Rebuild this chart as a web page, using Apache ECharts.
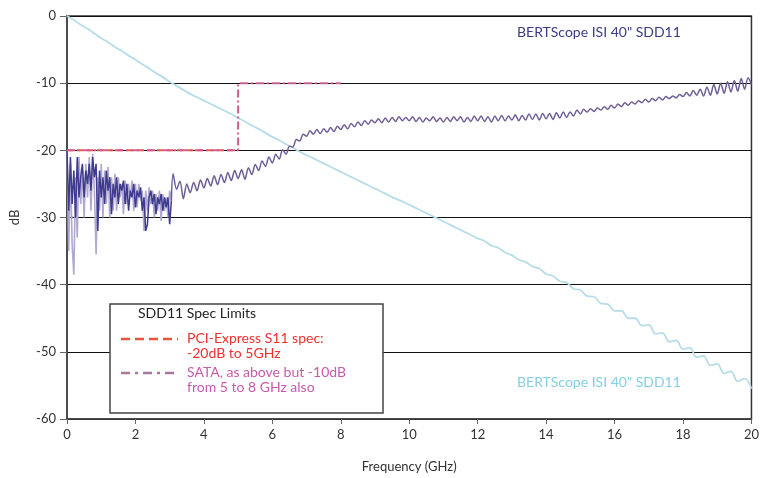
<!DOCTYPE html>
<html><head><meta charset="utf-8">
<script src="https://cdn.jsdelivr.net/npm/echarts@6/dist/echarts.min.js"></script>
<style>html,body{margin:0;padding:0;background:#fff}#c{width:762px;height:478px}</style>
</head><body><div id="c"></div>
<script>
// ---- data ----
const xTicks = [0, 2, 4, 6, 8, 10, 12, 14, 16, 18, 20];
const yTicks = [0, -10, -20, -30, -40, -50, -60];

// SDD11 low-frequency region (0 .. 3.05 GHz, step 0.05)
const lowStart = 0, lowStep = 0.05;
const sddLowDark = [-20,-29,-21,-28,-23,-30,-21,-27,-24,-22,-27,-23,-25,-22,-26,-21,-24,-22,-32,-23,
  -27,-24,-28,-23,-26,-24,-29.5,-25,-27,-24,-28,-25,-26,-24.5,-28,-25,-29,-26,-27,-25,
  -28.5,-26,-27,-25.5,-29,-27,-32,-31,-27,-26,-28,-26.5,-29.5,-27,-28,-26.5,-29,-27,-28.5,-27,-31,-27.5];
const sddLowLight = [-20,-35,-22,-34,-38.5,-24,-33,-21,-28,-23,-30,-22,-27,-21,-29,-20.5,-26,-35.5,-24,-29,
  -22,-30,-23,-28,-22.5,-30,-24,-29,-23.5,-29,-24,-27,-25,-29.5,-24.5,-28,-25,-27,-24.5,-29,
  -25,-28.5,-25,-27.5,-26,-32,-26,-29,-25.5,-28,-26,-30,-26.5,-29,-26,-30.5,-26.5,-29,-27,-30,-26,-27.5];

// SDD11 upper region (3.1 .. 20.0 GHz, step 0.1)
const highStart = 3.1, highStep = 0.1;
const sddHigh = [-23.5,-25.8,-24.6,-27.2,-25.0,-26.3,-24.8,-26.0,-24.4,-25.6,
  -24.2,-25.3,-23.8,-25.1,-23.6,-24.8,-23.3,-24.5,-23.0,-24.2,
  -22.9,-24.3,-22.6,-23.6,-22.1,-23.0,-21.6,-22.4,-21.0,-21.9,
  -20.6,-21.3,-19.9,-20.6,-19.4,-19.5,-18.4,-18.6,-17.6,-17.9,
  -17.1,-17.6,-16.9,-17.5,-16.8,-17.3,-16.6,-17.2,-16.4,-16.9,
  -16.2,-16.8,-16.0,-16.5,-15.8,-16.3,-15.6,-16.1,-15.5,-15.9,
  -15.3,-15.9,-15.2,-15.8,-15.1,-15.7,-15.0,-15.6,-15.1,-15.6,
  -15.0,-15.7,-15.1,-15.8,-15.2,-15.6,-15.0,-15.7,-15.2,-15.8,
  -15.1,-15.7,-15.0,-15.6,-15.0,-15.8,-15.1,-15.7,-14.9,-15.6,
  -14.9,-15.7,-15.0,-15.8,-14.9,-15.6,-14.8,-15.6,-14.9,-15.5,
  -14.7,-15.6,-14.8,-15.5,-14.6,-15.4,-14.6,-15.5,-14.5,-15.3,
  -14.5,-15.4,-14.4,-15.2,-14.3,-15.1,-14.3,-14.9,-14.0,-14.6,
  -13.9,-14.3,-13.8,-14.2,-13.7,-14.0,-13.5,-13.9,-13.3,-13.7,
  -13.1,-13.5,-12.9,-13.3,-12.8,-13.1,-12.6,-12.9,-12.4,-12.8,
  -12.3,-12.6,-12.1,-12.5,-12.0,-12.3,-11.9,-12.2,-11.7,-12.0,
  -11.4,-11.9,-11.1,-11.8,-10.9,-11.9,-10.6,-11.8,-10.2,-11.6,
  -10.0,-11.5,-9.8,-11.3,-9.6,-11.2,-9.3,-10.9,-9.2,-10.2];

// light-blue trace (0 .. 20 GHz, step 0.2)
const lbStart = 0, lbStep = 0.2;
const lightTrace = [0,-0.6,-1.3,-1.9,-2.6,-3.3,-3.9,-4.6,-5.2,-5.9,
  -6.5,-7.2,-7.8,-8.5,-9.1,-9.8,-10.4,-11.0,-11.6,-12.1,
  -12.6,-13.1,-13.6,-14.1,-14.6,-15.2,-15.7,-16.3,-16.8,-17.4,
  -18.0,-18.5,-19.1,-19.6,-20.2,-20.7,-21.2,-21.7,-22.2,-22.7,
  -23.2,-23.7,-24.2,-24.7,-25.2,-25.7,-26.2,-26.7,-27.2,-27.6,
  -28.1,-28.6,-29.1,-29.6,-30.1,-30.6,-31.1,-31.6,-32.1,-32.6,
  -33.1,-33.5,-34.2,-34.5,-35.2,-35.6,-36.3,-36.6,-37.3,-37.6,
  -38.4,-38.7,-39.5,-39.7,-40.6,-40.8,-41.7,-41.8,-42.8,-42.9,
  -43.9,-43.9,-45.0,-45.0,-46.1,-46.0,-47.3,-47.2,-48.5,-48.3,
  -49.6,-49.4,-50.8,-50.6,-52.0,-51.8,-53.2,-52.9,-54.4,-54.0,-55.5];

// spec limit lines
const pciX = [0, 5], pciY = [-20, -20];
const sataX = [0, 5, 5, 8], sataY = [-20, -20, -10, -10];

// texts
const traceLabel = 'BERTScope ISI 40" SDD11';
const legendTitle = 'SDD11 Spec Limits';
const pciText = ['PCI-Express S11 spec:', '-20dB to 5GHz'];
const sataText = ['SATA, as above but -10dB', 'from 5 to 8 GHz also'];

// ---- build ----
function pairs(start, step, vals) {
  return vals.map((v, i) => [+(start + i * step).toFixed(3), v]);
}
function zip(xs, ys) { return xs.map((x, i) => [x, ys[i]]); }

const FONT = 'Lato, "Open Sans", sans-serif';
const chart = echarts.init(document.getElementById('c'), null, {renderer: 'canvas'});

const option = {
  animation: false,
  backgroundColor: '#fff',
  textStyle: {fontFamily: FONT},
  grid: {left: 65, right: 8, top: 16, bottom: 55, show: true, borderColor: '#333', borderWidth: 1.5, backgroundColor: 'transparent'},
  xAxis: {
    type: 'value', min: 0, max: 20, interval: 2,
    name: 'Frequency (GHz)', nameLocation: 'middle', nameGap: 41,
    nameTextStyle: {fontSize: 13, color: '#333', fontFamily: FONT},
    axisLine: {show: true, onZero: false, lineStyle: {color: '#444', width: 1.5}},
    axisTick: {show: true, length: 5, lineStyle: {color: '#666'}},
    axisLabel: {fontSize: 13, color: '#333', margin: 9, fontFamily: FONT},
    splitLine: {show: false}
  },
  yAxis: {
    type: 'value', min: -60, max: 0, interval: 10,
    name: 'dB', nameLocation: 'middle', nameGap: 46, nameRotate: 90,
    nameTextStyle: {fontSize: 13, color: '#333', fontFamily: FONT},
    axisLine: {show: true, onZero: false, lineStyle: {color: '#444', width: 1.5}},
    axisTick: {show: true, length: 7, lineStyle: {color: '#666'}},
    axisLabel: {fontSize: 13, color: '#333', margin: 11, fontFamily: FONT},
    splitLine: {show: true, lineStyle: {color: '#111', width: 1.2}}
  },
  series: [
    {type: 'line', name: 'light', data: pairs(lbStart, lbStep, lightTrace), showSymbol: false, symbol: 'none', smooth: 0.4,
      lineStyle: {color: '#b7dde9', width: 1.8}, z: 2},
    {type: 'line', name: 'lowLight', data: pairs(lowStart, lowStep, sddLowLight), showSymbol: false, symbol: 'none',
      lineStyle: {color: '#b0a8d0', width: 1.6}, z: 3},
    {type: 'line', name: 'lowDark', data: pairs(lowStart, lowStep, sddLowDark), showSymbol: false, symbol: 'none',
      lineStyle: {color: '#3e3b8e', width: 1.5}, z: 4},
    {type: 'line', name: 'high', data: [[3.05, -27.5]].concat(pairs(highStart, highStep, sddHigh)), showSymbol: false, symbol: 'none', smooth: 0.3,
      lineStyle: {color: '#6e5f96', width: 1.5}, z: 4},
    {type: 'line', name: 'pci', data: zip(pciX, pciY), showSymbol: false, symbol: 'none',
      lineStyle: {color: '#e65a4a', width: 2, type: [6, 4]}, z: 5},
    {type: 'line', name: 'sata', data: zip(sataX, sataY), showSymbol: false, symbol: 'none',
      lineStyle: {color: '#cf5f92', width: 2, type: [8, 3, 2, 3]}, z: 6}
  ],
  graphic: [
    {type: 'text', left: 517, top: 25, style: {text: traceLabel, fill: '#3b3b84', font: '14px ' + FONT}},
    {type: 'text', left: 517, top: 375, style: {text: traceLabel, fill: '#86cfe2', font: '14px ' + FONT}},
    {type: 'rect', shape: {x: 110, y: 304, width: 273, height: 109}, style: {fill: '#fff', stroke: '#444', lineWidth: 1.5}, z: 10},
    {type: 'text', x: 138, y: 306, z: 11, style: {text: legendTitle, fill: '#222', font: '14px ' + FONT}},
    {type: 'line', z: 11, shape: {x1: 121, y1: 339, x2: 178, y2: 339}, style: {stroke: '#e2553f', lineWidth: 2.5, lineDash: [9, 5]}},
    {type: 'text', x: 187, y: 331, z: 11, style: {text: pciText.join('\n'), fill: '#ee3030', font: '14px ' + FONT, lineHeight: 15}},
    {type: 'line', z: 11, shape: {x1: 121, y1: 373, x2: 178, y2: 373}, style: {stroke: '#a8789c', lineWidth: 2.5, lineDash: [9, 5, 3, 5]}},
    {type: 'text', x: 187, y: 365, z: 11, style: {text: sataText.join('\n'), fill: '#c85aaa', font: '14px ' + FONT, lineHeight: 15}}
  ]
};
chart.setOption(option);
</script>
</body></html>
